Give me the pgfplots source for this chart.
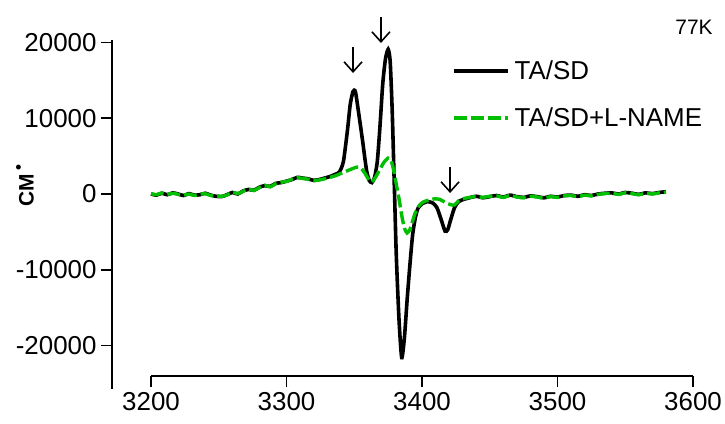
\documentclass[border=0pt]{standalone}
\usepackage{pgfplots}
\pgfplotsset{compat=1.18}
\usepackage{fontspec}
\setmainfont{Liberation Sans}
\usetikzlibrary{arrows.meta}
\definecolor{grn}{RGB}{0,190,0}
\begin{document}
\begin{tikzpicture}
\path[use as bounding box] (0,0) rectangle (725bp,424bp);
\begin{axis}[
  at={(112bp,48bp)}, anchor=south west,
  scale only axis, width=581bp, height=336bp,
  xmin=3171.2, xmax=3600, ymin=-24024, ymax=20328,
  clip=false,
  axis x line*=bottom, axis y line*=left,
  axis line style={draw=none},
  scaled y ticks=false, scaled x ticks=false,
  xtick={3200,3300,3400,3500,3600},
  xticklabels={3200,3300,3400,3500,3600},
  ytick={-20000,-10000,0,10000,20000},
  yticklabels={-20000,-10000,0,10000,20000},
  tick align=outside, major tick length=11bp,
  major tick style={black, line width=1.6bp},
  tick label style={font=\fontsize{26}{26}\selectfont},
  xticklabel style={yshift=-2bp},
  yticklabel style={xshift=-1bp},
  legend style={draw=none, fill=none, at={(rel axis cs:0.585,0.945)}, anchor=north west,
    font=\fontsize{26}{26}\selectfont, row sep=23bp, inner sep=0pt},
  legend cell align=left,
  legend image code/.code={\draw[#1] (0bp,0bp) -- (54bp,0bp);},
]
\addplot[black, line width=3.6bp, smooth, tension=0.4] coordinates {
(3200,0)(3204,-150)(3208,100)(3212,-100)(3216,150)(3220,0)(3224,-200)(3228,50)
(3232,-150)(3236,-100)(3240,100)(3244,-150)(3248,-300)(3252,-350)(3256,-100)(3260,200)
(3264,0)(3268,400)(3272,600)(3276,500)(3280,900)(3284,1100)(3288,1000)(3292,1400)
(3296,1500)(3300,1700)(3304,1900)(3308,2200)(3312,2100)(3316,2000)(3320,1800)(3324,1900)
(3328,2100)(3332,2300)(3336,2600)(3339,2900)(3342,4300)(3345,8450)(3347,11800)(3349,13500)
(3350,13700)(3351,13400)(3353,11000)(3356,7200)(3359,3200)(3361,1800)(3363,1500)(3365,2200)
(3367,4300)(3369,9000)(3371,14500)(3373,17800)(3375,19100)(3376.5,17500)(3378,11000)(3379.5,1500)
(3381,-8000)(3383,-16500)(3385,-21600)(3387,-19000)(3389,-14000)(3391,-9500)(3393,-5500)(3395,-3200)
(3397,-1900)(3400,-1300)(3404,-1000)(3408,-1200)(3411,-1800)(3414,-3300)(3417,-4900)(3419,-4700)
(3421,-3500)(3424,-1800)(3427,-1000)(3431,-700)(3435,-500)(3440,-300)(3445,-500)(3450,-350)
(3455,-200)(3460,-400)(3465,-150)(3470,-350)(3475,-450)(3480,-250)(3485,-350)(3490,-500)
(3495,-300)(3500,-400)(3505,-200)(3510,-150)(3515,-300)(3520,-100)(3525,-200)(3530,0)
(3535,100)(3540,150)(3545,0)(3550,200)(3555,100)(3560,-50)(3565,150)(3570,50)(3575,200)(3580,300)
};
\addlegendentry{\hspace{3bp}TA/SD}
\addplot[grn, line width=3.4bp, dash pattern=on 13bp off 4bp, smooth, tension=0.4] coordinates {
(3200,50)(3204,-100)(3208,150)(3212,-50)(3216,100)(3220,-50)(3224,-150)(3228,0)
(3232,-200)(3236,-50)(3240,50)(3244,-200)(3248,-250)(3252,-300)(3256,-150)(3260,250)
(3264,50)(3268,350)(3272,650)(3276,450)(3280,850)(3284,1150)(3288,950)(3292,1350)
(3296,1550)(3300,1650)(3304,1950)(3308,2150)(3312,2050)(3316,1950)(3320,1750)(3324,1850)
(3328,2000)(3332,2200)(3336,2400)(3340,2700)(3344,3000)(3348,3300)(3352,3550)(3355,3400)
(3358,2700)(3361,1800)(3363,1600)(3366,2300)(3369,3300)(3372,4200)(3375,4750)(3377,4500)
(3379,3200)(3381,1300)(3383,-600)(3385,-2800)(3387,-4500)(3389,-5150)(3391,-4700)(3393,-3600)
(3395,-2500)(3398,-1500)(3401,-1050)(3405,-800)(3409,-650)(3413,-700)(3417,-1100)(3421,-1400)
(3424,-1450)(3427,-900)(3431,-600)(3435,-450)(3440,-350)(3445,-450)(3450,-300)(3455,-250)
(3460,-450)(3465,-200)(3470,-400)(3475,-500)(3480,-300)(3485,-400)(3490,-550)(3495,-350)
(3500,-450)(3505,-250)(3510,-200)(3515,-350)(3520,-150)(3525,-250)(3530,-50)(3535,50)
(3540,100)(3545,-50)(3550,150)(3555,50)(3560,-100)(3565,100)(3570,0)(3575,150)(3580,250)
};
\addlegendentry{\hspace{3bp}TA/SD+L-NAME}
\draw[line width=1.6bp] (rel axis cs:0,1) -- ([yshift=-13bp]rel axis cs:0,0);
\draw[line width=1.6bp] (axis cs:3200,-24024) -- (axis cs:3600,-24024);
\draw[line width=1.6bp, -{Straight Barb[length=10bp,width=18bp]}] (axis cs:3349.1,19404) -- (axis cs:3349.1,15972);
\draw[line width=1.6bp, -{Straight Barb[length=10bp,width=18bp]}] (axis cs:3369.7,23364) -- (axis cs:3369.7,19932);
\draw[line width=1.6bp, -{Straight Barb[length=10bp,width=18bp]}] (axis cs:3420.7,3564) -- (axis cs:3420.7,132);
\end{axis}
\node[font=\fontsize{21}{21}\selectfont, anchor=center] at (694bp,397bp) {77K};
\node[rotate=90, anchor=center, font=\fontsize{21}{21}\selectfont\bfseries] at (25bp,238bp) {CM\,\raisebox{0.45em}{\fontsize{17}{17}\selectfont\textbullet}};
\end{tikzpicture}
\end{document}
